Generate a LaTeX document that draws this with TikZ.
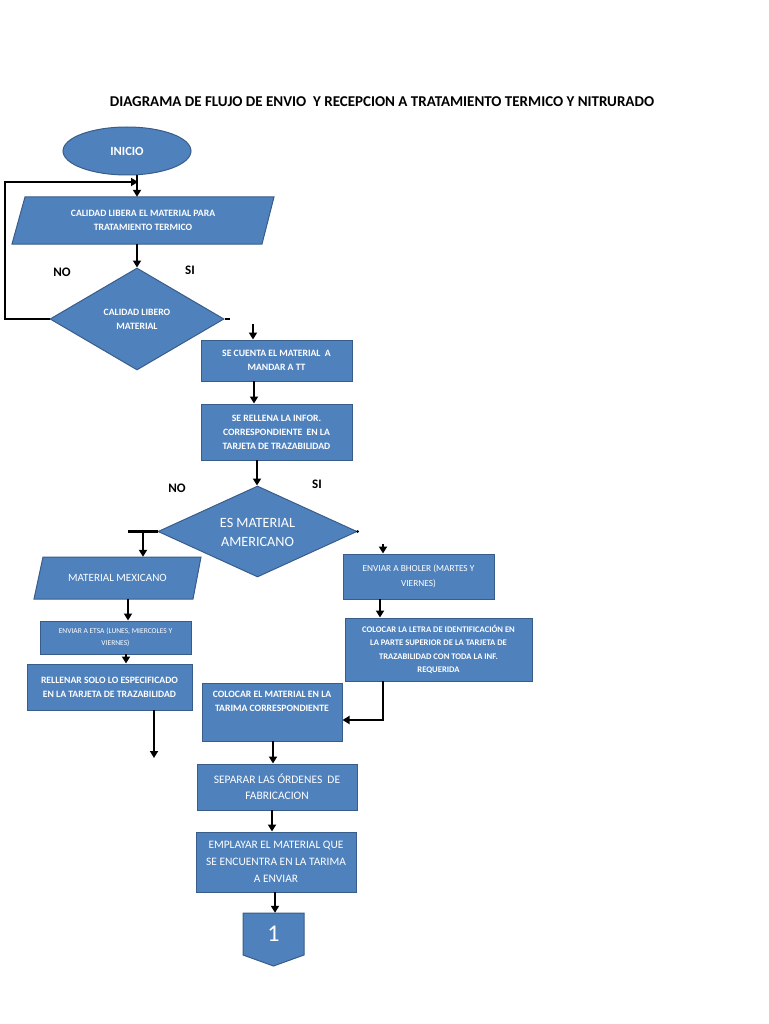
\documentclass[tikz,border=0pt]{standalone}
\usepackage{fontspec}
\setmainfont{Carlito}
\usetikzlibrary{shapes.geometric,arrows.meta}
\definecolor{fillb}{HTML}{4F81BD}
\definecolor{edgeb}{HTML}{385D8A}
\begin{document}
\begin{tikzpicture}[x=1pt,y=-1pt,
  shp/.style={fill=fillb,draw=edgeb,line width=1pt,text=white,align=center,inner sep=0pt,
    font=\bfseries\fontsize{9.7}{14}\selectfont},
  box/.style={shp,rectangle},
  ptxt/.style={text=white,align=center,inner sep=0pt,font=\bfseries\fontsize{9.7}{14}\selectfont},
  pfill/.style={fill=fillb,draw=edgeb,line width=1pt},
  dia/.style={shp,diamond},
  conn/.style={line width=2.2pt,-{Triangle[length=7pt,width=8pt]}},
  plain/.style={line width=2.2pt},
  lbl/.style={font=\bfseries\fontsize{13}{14}\selectfont,inner sep=0pt}]
\useasboundingbox (0,0) rectangle (768,1024);
\fill[white] (0,0) rectangle (768,1024);

\node[font=\bfseries\fontsize{15}{16}\selectfont,inner sep=0pt] (title) at (382,102)
  {DIAGRAMA DE FLUJO DE ENVIO \ Y RECEPCION A TRATAMIENTO TERMICO Y NITRURADO};

\node[shp,ellipse,minimum width=128,minimum height=48,font=\bfseries\fontsize{12.5}{14}\selectfont] (ini) at (127,151) {INICIO};

\path[pfill] (25,197) -- (274,197) -- (262,244) -- (12,244) -- cycle;
\node[ptxt,minimum width=249,minimum height=47] (p1) at (143,220.5)
  {CALIDAD LIBERA EL MATERIAL PARA\\TRATAMIENTO TERMICO};

\node[dia,minimum width=174,minimum height=102] (d1) at (137,319) {CALIDAD LIBERO\\MATERIAL};

\node[box,minimum width=151,minimum height=41] (b1) at (276.5,360.5) {SE CUENTA EL MATERIAL \ A\\MANDAR A TT};
\node[box,minimum width=151,minimum height=56] (b2) at (276.5,432) {SE RELLENA LA INFOR.\\CORRESPONDIENTE \ EN LA\\TARJETA DE TRAZABILIDAD};

\node[dia,minimum width=199,minimum height=91] (d2) at (257.5,531.5) {};
\node[ptxt,font=\fontsize{14.2}{19}\selectfont] (d2t) at (257.5,532) {ES MATERIAL\\AMERICANO};

\path[pfill] (43,557) -- (201,557) -- (193,599) -- (34,599) -- cycle;
\node[ptxt,minimum width=158,minimum height=42,font=\fontsize{11.1}{12}\selectfont] (p2) at (117.5,578) {MATERIAL MEXICANO};
\node[box,minimum width=151,minimum height=33,font=\fontsize{7.5}{12}\selectfont] (etsa) at (115.5,637.5) {ENVIAR A ETSA (LUNES, MIERCOLES Y\\VIERNES)};
\node[box,minimum width=165,minimum height=46] (rell) at (109.5,687) {RELLENAR SOLO LO ESPECIFICADO\\EN LA TARJETA DE TRAZABILIDAD};

\node[box,minimum width=151,minimum height=45,font=\fontsize{9.3}{15}\selectfont] (bhol) at (418.5,576.5) {ENVIAR A BHOLER (MARTES Y\\VIERNES)};
\node[box,minimum width=187,minimum height=63,font=\bfseries\fontsize{8.6}{13.5}\selectfont] (letra) at (438.5,649.5)
  {COLOCAR LA LETRA DE IDENTIFICACIÓN EN\\LA PARTE SUPERIOR DE LA TARJETA DE\\TRAZABILIDAD CON TODA LA INF.\\REQUERIDA};

\node[box,minimum width=140,minimum height=58] (colo) at (272,712) {};
\node[ptxt] (colot) at (272,701)
  {COLOCAR EL MATERIAL EN LA\\TARIMA CORRESPONDIENTE};

\node[box,minimum width=160,minimum height=46,font=\fontsize{11.5}{16}\selectfont] (sep) at (277,787) {SEPARAR LAS ÓRDENES \ DE\\FABRICACION};
\node[box,minimum width=160,minimum height=60,font=\fontsize{11.4}{17}\selectfont] (empl) at (276,862) {EMPLAYAR EL MATERIAL QUE\\SE ENCUENTRA EN LA TARIMA\\A ENVIAR};

\path[pfill] (243,913) -- (304,913) -- (304,955) -- (273.5,966) -- (243,955) -- cycle;
\node[inner sep=0pt,minimum width=61,minimum height=42,text=white,font=\fontsize{24}{26}\selectfont] (c1) at (273.5,934) {1};

\node[lbl] (no1) at (62,272) {NO};
\node[lbl] (si1) at (190,270) {SI};
\node[lbl] (no2) at (177,488) {NO};
\node[lbl] (si2) at (317,484) {SI};

% connectors
\coordinate (k1) at (137,175);
\draw[conn] (k1) -- (k1 |- p1.north);
\coordinate (lp) at (5,182);
\coordinate (lpe) at (138,182);
\draw[conn] (d1.west) -| (lp) -- (lpe);
\draw[conn] (d1.north |- p1.south) -- (d1.north);
\coordinate (s1) at (230,319);
\draw[plain] (d1.east) -- (s1);
\coordinate (k2) at (253,324);
\draw[conn] (k2) -- (k2 |- b1.north);
\coordinate (k3) at (254,381);
\draw[conn] (k3) -- (k3 |- b2.north);
\coordinate (k3b) at (257,460);
\draw[conn] (k3b) -- (k3b |- d2.north);
\coordinate (s2) at (128,531.5);
\draw[plain] (d2.west) -- (s2);
\coordinate (k4) at (143,531.5);
\draw[conn] (k4) -- (k4 |- p2.north);
\fill (d2.east) circle (1.5);
\coordinate (k5) at (383,544);
\draw[conn] (k5) -- (k5 |- bhol.north);
\coordinate (k6) at (380,599);
\draw[conn] (k6) -- (k6 |- letra.north);
\coordinate (k7) at (383,681);
\coordinate (k7b) at (383,720);
\draw[conn] (k7) -- (k7b) -- (k7b -| colo.east);
\coordinate (k8) at (128,599);
\draw[conn] (k8) -- (k8 |- etsa.north);
\coordinate (k9) at (126,654);
\draw[conn] (k9) -- (k9 |- rell.north);
\coordinate (k10) at (154,710);
\coordinate (k10e) at (154,758);
\draw[conn] (k10) -- (k10e);
\coordinate (k11) at (273,741);
\draw[conn] (k11) -- (k11 |- sep.north);
\coordinate (k12) at (272,810);
\draw[conn] (k12) -- (k12 |- empl.north);
\coordinate (k13) at (275,892);
\draw[conn] (k13) -- (k13 |- c1.north);
\end{tikzpicture}
\end{document}
